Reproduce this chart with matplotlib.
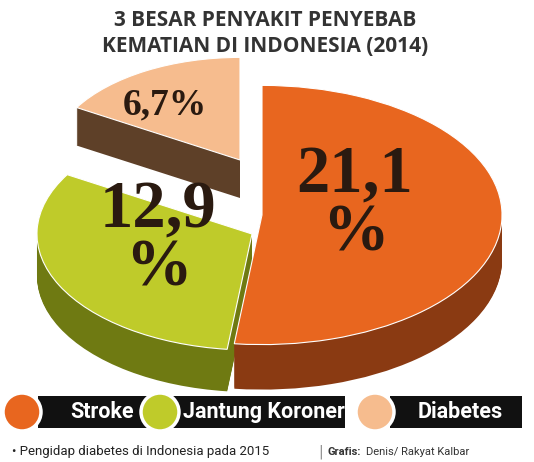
import matplotlib
matplotlib.use("Agg")
import matplotlib.pyplot as plt
from matplotlib.patches import Wedge, Circle, Rectangle
from matplotlib.transforms import Affine2D

categories = ["Stroke", "Jantung Koroner", "Diabetes"]
values = [21.1, 12.9, 6.7]
labels = ["21,1\n%", "12,9\n%", "6,7%"]
top_colors = ["#E8661F", "#BFCB2A", "#F6BC8E"]
side_colors = ["#8A3A12", "#6F7A12", "#5E4028"]

fig = plt.figure(figsize=(5.34, 4.62), dpi=100)
ax = fig.add_axes([0, 0, 1, 1])
ax.set_xlim(0, 534)
ax.set_ylim(0, 462)
ax.axis("off")

total = sum(values)
angles = []
start = 90
for v in values:
    sweep = v / total * 360
    angles.append((start - sweep, start))
    start -= sweep

centers = [(262, 247), (252, 228), (240, 302)]
radii = [240, 215, 190]
sq = 0.54
depths = [45, 42, 38]

order = [2, 1, 0]
for i in order:
    t1, t2 = angles[i]
    cx, cy = centers[i]
    for d in range(depths[i], 0, -1):
        tr = Affine2D().scale(1, sq).translate(cx, cy - d) + ax.transData
        ax.add_patch(Wedge((0, 0), radii[i], t1, t2, facecolor=side_colors[i],
                           edgecolor="none", transform=tr))
    tr = Affine2D().scale(1, sq).translate(cx, cy) + ax.transData
    ax.add_patch(Wedge((0, 0), radii[i], t1, t2, facecolor=top_colors[i],
                       edgecolor="white", linewidth=0.8, transform=tr))

lab_pos = [(355, 257), (158, 222), (165, 357)]
lab_size = [48, 48, 27]
for (x, y), s, t in zip(lab_pos, lab_size, labels):
    ax.text(x, y, t, fontsize=s, fontweight="bold", family="Liberation Serif",
            color="#2A1A10", ha="center", va="center", linespacing=0.95)

ax.text(265, 442, "3 BESAR PENYAKIT PENYEBAB", fontsize=15, fontweight="bold",
        family="Open Sans", color="#333333", ha="center", va="center")
ax.text(265, 416, "KEMATIAN DI INDONESIA (2014)", fontsize=15, fontweight="bold",
        family="Open Sans", color="#333333", ha="center", va="center")

leg = [(22, 38, 160), (160, 172, 345), (375, 390, 522)]
ly = 462 - 412
for (ccx, bx0, bx1), name, col in zip(leg, categories, top_colors):
    ax.add_patch(Rectangle((bx0, ly - 16), bx1 - bx0, 32, facecolor="#111111", edgecolor="none"))
    ax.add_patch(Circle((ccx, ly), 19, facecolor=col, edgecolor="white", linewidth=2.5))
    ax.text((ccx + 19 + bx1) / 2 + 2, ly, name, fontsize=15.5, fontweight="bold",
            family="Roboto", color="white", ha="center", va="center")

ax.text(12, 462 - 452, "• Pengidap diabetes di Indonesia pada 2015", fontsize=9.5,
        family="Roboto", color="#222222", ha="left", va="center")
ax.text(318, 462 - 452, "|", fontsize=10, color="#888888", ha="left", va="center")
ax.text(328, 462 - 452, "Grafis:", fontsize=8, fontweight="bold", family="Roboto",
        color="#333333", ha="left", va="center")
ax.text(366, 462 - 452, "Denis/ Rakyat Kalbar", fontsize=8, family="Roboto",
        color="#333333", ha="left", va="center")

fig.savefig("out.png", dpi=100)
